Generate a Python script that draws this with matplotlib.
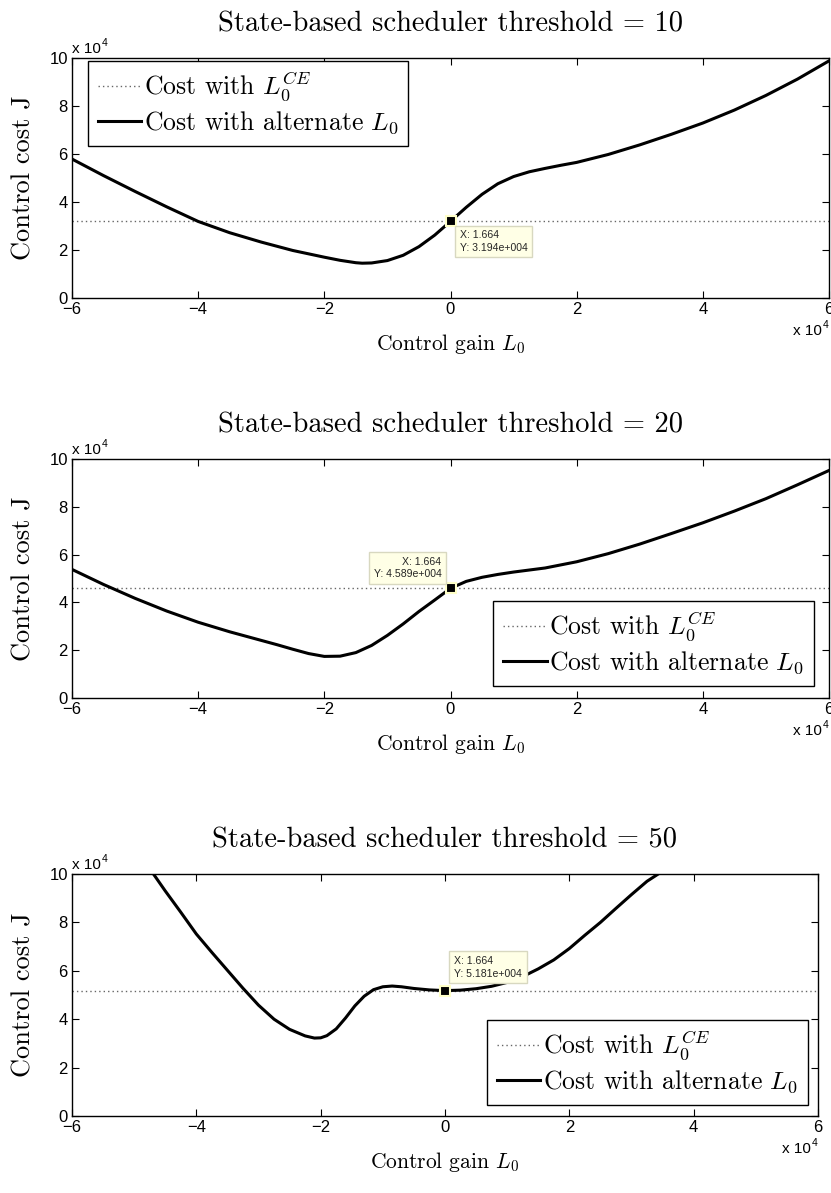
import matplotlib
matplotlib.use('Agg')
import matplotlib.pyplot as plt
import numpy as np

plt.rcParams['mathtext.fontset'] = 'cm'
plt.rcParams['axes.formatter.use_mathtext'] = True

#Messwerte (L0 und J jeweils in Einheiten von 1e4)
L_10 = [-6.0, -5.5, -5.0, -4.5, -4.0, -3.5, -3.0, -2.5, -2.0, -1.75, -1.5, -1.4, -1.25, -1.0, -0.75,
        -0.5, -0.25, 0.0, 0.25, 0.5, 0.75, 1.0, 1.25, 1.5, 1.75, 2.0, 2.5, 3.0, 3.5, 4.0, 4.5, 5.0, 5.5, 6.0]
J_10 = [5.79, 5.10, 4.44, 3.80, 3.19, 2.72, 2.33, 1.98, 1.70, 1.57, 1.47, 1.45, 1.46, 1.56, 1.78,
        2.14, 2.62, 3.194, 3.78, 4.32, 4.76, 5.06, 5.26, 5.40, 5.53, 5.65, 5.98, 6.38, 6.82, 7.29, 7.83, 8.44, 9.12, 9.88]

L_20 = [-6.0, -5.5, -5.0, -4.5, -4.0, -3.5, -3.0, -2.75, -2.5, -2.25, -2.0, -1.75, -1.5, -1.25, -1.0,
        -0.75, -0.5, -0.25, 0.0, 0.25, 0.5, 0.75, 1.0, 1.5, 2.0, 2.5, 3.0, 3.5, 4.0, 4.5, 5.0, 5.5, 6.0]
J_20 = [5.38, 4.75, 4.17, 3.64, 3.17, 2.77, 2.41, 2.23, 2.04, 1.86, 1.74, 1.75, 1.90, 2.20, 2.62,
        3.10, 3.62, 4.10, 4.589, 4.88, 5.05, 5.17, 5.27, 5.44, 5.70, 6.04, 6.44, 6.88, 7.33, 7.82, 8.34, 8.92, 9.52]

L_50 = [-4.69, -4.5, -4.25, -4.0, -3.75, -3.5, -3.25, -3.0, -2.75, -2.5, -2.25, -2.1, -2.0, -1.9, -1.75,
        -1.6, -1.45, -1.3, -1.15, -1.0, -0.85, -0.7, -0.5, -0.25, 0.0, 0.25, 0.5, 0.75, 1.0, 1.25,
        1.5, 1.75, 2.0, 2.25, 2.5, 2.75, 3.0, 3.25, 3.43]
J_50 = [10.0, 9.30, 8.42, 7.52, 6.76, 6.02, 5.28, 4.58, 4.00, 3.58, 3.31, 3.22, 3.23, 3.32, 3.60,
        4.05, 4.55, 4.95, 5.22, 5.34, 5.37, 5.34, 5.27, 5.21, 5.181, 5.20, 5.26, 5.36, 5.52, 5.76,
        6.08, 6.45, 6.92, 7.47, 8.00, 8.58, 9.15, 9.70, 10.0]

thresholds = [10, 20, 50]
J_CE = [3.194e4, 4.589e4, 5.181e4]
X_tip = 1.664
tips = ['X: 1.664\nY: 3.194e+004', 'X: 1.664\nY: 4.589e+004', 'X: 1.664\nY: 5.181e+004']

xticks = [-6, -4, -2, 0, 2, 4, 6]
yticks = [0, 2, 4, 6, 8, 10]

W, H = 831, 1193
fig = plt.figure(figsize=(W/100, H/100), dpi=100)

# Achsen in Pixeln: links, oben, rechts, unten
boxes = [(72, 58, 829, 298), (72, 459, 829, 698), (72, 874, 818, 1116)]
legpos = [('upper left', (0.021, 0.988)), ('lower right', (0.980, 0.05)), ('lower right', (0.986, 0.045))]
tipoff = [((9, -9), 'left', 'top'), ((-9, 9), 'right', 'bottom'), ((9, 12), 'left', 'bottom')]
curves = [(L_10, J_10), (L_20, J_20), (L_50, J_50)]

serif = 'cmr10'
sans = 'Liberation Sans'

for i in range(3):
    l, t, r, b = boxes[i]
    ax = fig.add_axes([l/W, 1-b/H, (r-l)/W, (b-t)/H])
    L = np.array(curves[i][0])*1e4
    J = np.array(curves[i][1])*1e4
    ax.plot([-6e4, 6e4], [J_CE[i], J_CE[i]], color='0.4', ls=(0, (1, 2.2)), lw=1.0,
            label=r'Cost with $L_0^{CE}$')
    ax.plot(L, J, 'k-', lw=2.2, label=r'Cost with alternate $L_0$', solid_joinstyle='round')
    ax.plot([X_tip], [J_CE[i]], 's', ms=7, mfc='k', mec='#ffffc8', mew=1.5, zorder=5)
    off, ha, va = tipoff[i]
    ax.annotate(tips[i], (X_tip, J_CE[i]), xytext=off, textcoords='offset pixels',
                ha=ha, va=va, fontsize=7.6, family=sans, color='0.15', linespacing=1.3,
                bbox=dict(boxstyle='square,pad=0.45', fc='#ffffe6', ec='#d8d8c0', lw=1), zorder=6)

    ax.set_xlim(-6e4, 6e4)
    ax.set_ylim(0, 1e5)
    ax.set_xticks([v*1e4 for v in xticks])
    ax.set_xticklabels([str(v).replace('-', '\u2212') for v in xticks], family=sans, fontsize=12)
    ax.set_yticks([v*1e4 for v in yticks])
    ax.set_yticklabels([str(v) for v in yticks], family=sans, fontsize=12)
    ax.tick_params(direction='in', length=5, width=0.8, top=True, right=True, pad=3)
    for s in ax.spines.values():
        s.set_linewidth(1.0)

    ax.set_title('State-based scheduler threshold = %d' % thresholds[i], family=serif, fontsize=20.5, pad=19)
    ax.set_xlabel(r'Control gain $L_0$', family=serif, fontsize=15.5, labelpad=11)
    ax.set_ylabel('Control cost J', family=serif, fontsize=19, labelpad=10)

    # MATLAB-Exponent
    ax.text(0, 1.008, 'x 10', transform=ax.transAxes, ha='left', va='bottom', family=sans, fontsize=11)
    ax.annotate('4', (0, 1.008), xycoords='axes fraction', xytext=(30, 8), textcoords='offset pixels',
                ha='left', va='bottom', family=sans, fontsize=7.5)
    ax.annotate('x 10', (1, 0), xycoords='axes fraction', xytext=(-7, -40), textcoords='offset pixels',
                ha='right', va='bottom', family=sans, fontsize=11)
    ax.annotate('4', (1, 0), xycoords='axes fraction', xytext=(-6, -32), textcoords='offset pixels',
                ha='left', va='bottom', family=sans, fontsize=7.5)

    loc, anchor = legpos[i]
    leg = ax.legend(loc=loc, bbox_to_anchor=anchor, prop={'family': serif, 'size': 18.5},
                    fancybox=False, framealpha=1, edgecolor='k', borderpad=0.38, labelspacing=0.25,
                    handlelength=1.7, handletextpad=0.1, borderaxespad=0)
    leg.get_frame().set_linewidth(1.0)

plt.savefig('out.png', dpi=100)
